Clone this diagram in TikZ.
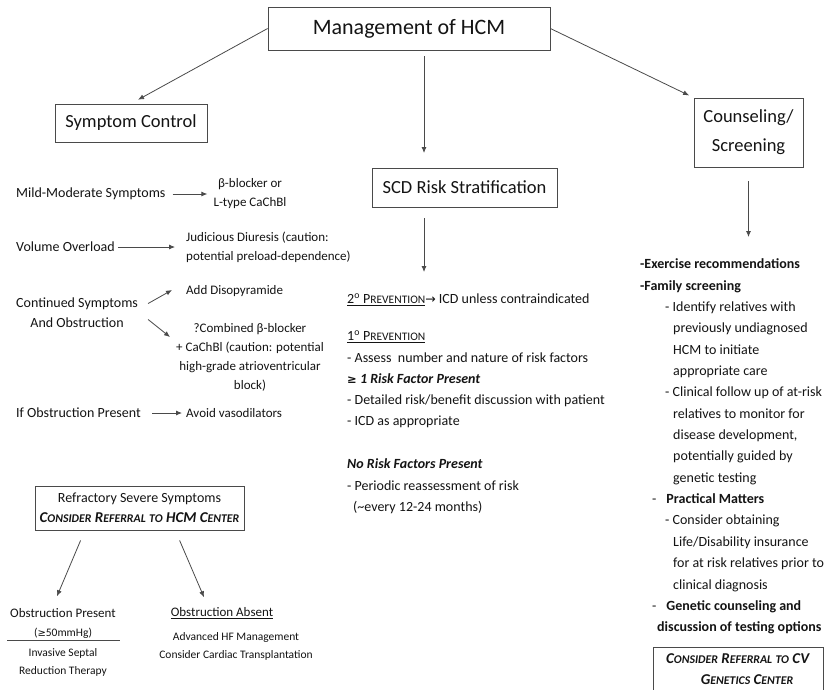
\documentclass[tikz,border=0pt]{standalone}
\usepackage{fontspec}
\setmainfont{Carlito}
\newfontfamily\djv{DejaVu Sans}
\usetikzlibrary{arrows.meta,calc}
\definecolor{ink}{HTML}{141414}
\definecolor{edgec}{HTML}{4A4A4A}
\newcommand\fsc[2]{#1{\fontsize{11.5}{12}\selectfont #2}}
\newcommand\fscb[2]{#1{\fontsize{11.8}{12}\selectfont #2}}
\newcommand\fscc[2]{#1{\fontsize{11.8}{12}\selectfont #2}}
\begin{document}
\begin{tikzpicture}[x=1pt,y=-1pt,
  every node/.style={text=ink},
  box/.style={draw=edgec, line width=0.8pt, inner sep=0pt, align=center},
  lbl/.style={inner sep=0pt, font=\fontsize{14}{20}\selectfont},
  res/.style={inner sep=0pt, font=\fontsize{13}{19}\selectfont},
  small/.style={inner sep=0pt, font=\fontsize{11.5}{18}\selectfont, align=center},
  arr/.style={draw=edgec, line width=0.8pt, -{Latex[length=6pt,width=5pt]}}]
\useasboundingbox (0,0) rectangle (829,689);
\fill[white] (0,0) rectangle (829,689);

% main boxes
\node[box, minimum width=282pt, minimum height=43pt, font=\fontsize{22}{26}\selectfont] (title) at (409,28.5) {Management of HCM};
\node[box, minimum width=152pt, minimum height=38pt, font=\fontsize{18.5}{22}\selectfont] (sc) at (131,123) {Symptom Control};
\node[box, minimum width=185pt, minimum height=39pt, font=\fontsize{18.5}{22}\selectfont] (scd) at (464.5,187.5) {SCD Risk Stratification};
\node[box, minimum width=109pt, minimum height=69pt, font=\fontsize{18.5}{29}\selectfont] (cs) at (748.5,132.5) {Counseling/\\Screening};

\coordinate (m1) at (424,56);
\coordinate (m2) at (424,153);
\coordinate (m3) at (424,218);
\coordinate (m4) at (424,272);
\coordinate (c4) at (748.5,237);

\draw[arr, shorten >=8pt] (title.west) -- (sc.north);
\draw[arr, shorten >=5pt] (title.east) -- (cs.north west);
\draw[arr] (m1) -- (m2);
\draw[arr] (m3) -- (m4);
\draw[arr, shorten <=14pt] (cs.south) -- (c4);

% left column
\node[lbl, anchor=west] (mild) at (16,194) {Mild-Moderate Symptoms};
\node[res, align=center] (bb) at (250,193.5) {β-blocker or\\L-type CaChBl};
\draw[arr, shorten <=7pt, shorten >=6pt] (mild.east) -- (mild.east -| bb.west);

\node[lbl, anchor=west] (vol) at (16,247) {Volume Overload};
\node[res, anchor=west, align=left] (jud) at (186,247.5) {Judicious Diuresis (caution:\\potential preload-dependence)};
\draw[arr, shorten <=3pt, shorten >=11pt] (vol.east) -- (vol.east -| jud.west);

\node[lbl, anchor=west, align=center] (cont) at (16,312.5) {Continued Symptoms\\And Obstruction};
\node[res, anchor=west] (dis) at (186,291) {Add Disopyramide};
\node[res, align=center] (comb) at (250,357) {?Combined β-blocker\\+ CaChBl (caution: potential\\high-grade atrioventricular\\block)};
\draw[arr] ($(cont.east)+(10,-9)$) -- ($(dis.west)+(-14,-1)$);
\draw[arr] ($(cont.east)+(10,7)$) -- ($(comb.west)+(-6,-20)$);

\node[lbl, anchor=west] (ifo) at (16,413) {If Obstruction Present};
\node[res, anchor=west] (av) at (186,413) {Avoid vasodilators};
\draw[arr, shorten <=11pt, shorten >=4pt] (ifo.east) -- (ifo.east -| av.west);

% refractory
\node[box, minimum width=209pt, minimum height=44pt, font=\fontsize{14}{20}\selectfont] (ref) at (139.5,508)
  {Refractory Severe Symptoms\\{\fontsize{15}{20}\selectfont\textbf{\textit{\fscb{C}{ONSIDER} \fscb{R}{EFERRAL} \fscb{}{TO} HCM \fscb{C}{ENTER}}}}};
\node[inner sep=0pt, font=\fontsize{13}{18}\selectfont] (op) at (63,613) {Obstruction Present};
\node[small] (ge) at (63,633) {({\djv\fontsize{10}{12}\selectfont ≥}50mmHg)};
\draw[edgec, line width=0.8pt] (7,640.5) -- (120,640.5);
\node[small] (ist) at (63,662) {Invasive Septal\\Reduction Therapy};
\node[inner sep=0pt, font=\fontsize{13}{18}\selectfont] (oa) at (222,613) {\underline{Obstruction Absent}};
\node[small] (ahf) at (236,646) {Advanced HF Management\\Consider Cardiac Transplantation};
\draw[arr] ($(ref.south west)+(46,10)$) -- ($(op.north)+(-6,-12)$);
\draw[arr] ($(ref.south west)+(145,10)$) -- ($(oa.north)+(-18,-10)$);

% middle column
\node[inner sep=0pt, anchor=west, font=\fontsize{14}{21}\selectfont] (sec) at (347,300)
  {\underline{2\textsuperscript{o} \fsc{P}{REVENTION}}{\djv\fontsize{12.5}{14}\selectfont →} ICD unless contraindicated};
\node[inner sep=0pt, anchor=west, align=left, font=\fontsize{14}{21.3}\selectfont] (prim) at (347,379.5)
  {\underline{1\textsuperscript{o} \fsc{P}{REVENTION}}\\
   - Assess\ \ number and nature of risk factors\\
   \textbf{\textit{{\djv\fontsize{11.5}{12}\selectfont ≥} 1 Risk Factor Present}}\\
   - Detailed risk/benefit discussion with patient\\
   - ICD as appropriate};
\node[inner sep=0pt, anchor=west, align=left, font=\fontsize{14}{21.5}\selectfont] (nor) at (347,486.5)
  {\textbf{\textit{No Risk Factors Present}}\\
   - Periodic reassessment of risk\\
   \hspace*{6pt}(\textasciitilde every 12-24 months)};

% right column
\node[inner sep=0pt, anchor=west, align=left, font=\fontsize{14}{21.35}\selectfont] (right) at (640,446.5)
  {\textbf{-Exercise recommendations}\\
   \textbf{-Family screening}\\
   \hspace*{25pt}- Identify relatives with\\
   \hspace*{33pt}previously undiagnosed\\
   \hspace*{33pt}HCM to initiate\\
   \hspace*{33pt}appropriate care\\
   \hspace*{25pt}- Clinical follow up of at-risk\\
   \hspace*{33pt}relatives to monitor for\\
   \hspace*{33pt}disease development,\\
   \hspace*{33pt}potentially guided by\\
   \hspace*{33pt}genetic testing\\
   \hspace*{12pt}-\hspace*{10pt}\textbf{Practical Matters}\\
   \hspace*{25pt}- Consider obtaining\\
   \hspace*{33pt}Life/Disability insurance\\
   \hspace*{33pt}for at risk relatives prior to\\
   \hspace*{33pt}clinical diagnosis\\
   \hspace*{12pt}-\hspace*{10pt}\textbf{Genetic counseling and}\\
   \hspace*{17pt}\textbf{discussion of testing options}};
\node[box, minimum width=170pt, minimum height=44pt, font=\fontsize{15}{21}\selectfont] (cv) at (738,669)
  {\textbf{\textit{\fscc{C}{ONSIDER} \fscc{R}{EFERRAL} \fscc{}{TO} CV}}\\\hspace*{18pt}\textbf{\textit{\fscc{G}{ENETICS} \fscc{C}{ENTER}}}};
\end{tikzpicture}
\end{document}
